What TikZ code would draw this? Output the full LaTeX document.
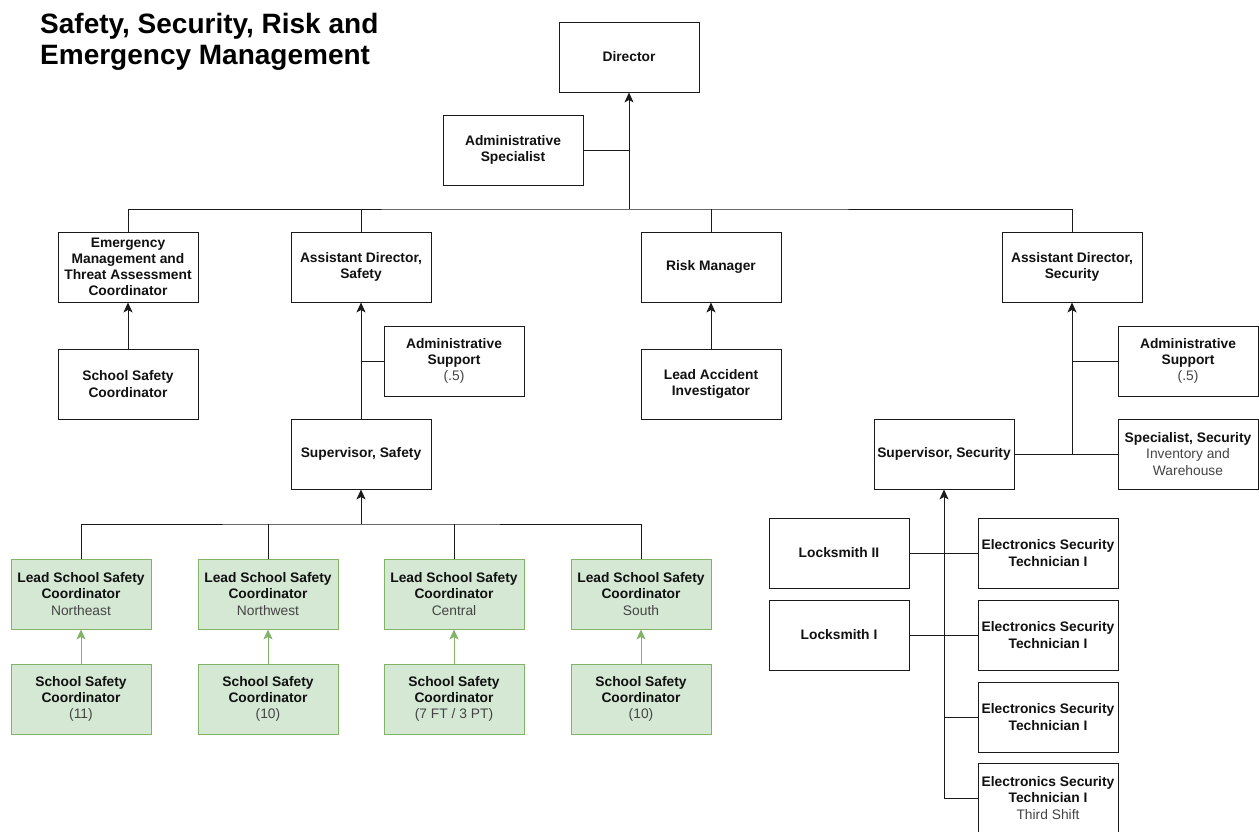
\documentclass[tikz,border=0pt]{standalone}
\usepackage{fontspec}
\setmainfont{Liberation Sans}
\usetikzlibrary{arrows.meta}
\definecolor{edgec}{HTML}{1A1A1A}
\definecolor{txtc}{HTML}{111111}
\definecolor{subc}{HTML}{444444}
\definecolor{gfill}{HTML}{D5E8D4}
\definecolor{gline}{HTML}{82B366}
\newcommand\subt[1]{{\mdseries\color{subc}#1}}
\tikzset{
  box/.style={draw=edgec, line width=0.9pt, fill=white, minimum width=140pt, minimum height=70pt,
    inner sep=0pt, align=center, text=txtc, font=\fontsize{13.8}{16.2}\selectfont\bfseries},
  gbox/.style={box, draw=gline, fill=gfill},
  conn/.style={draw=edgec, line width=0.9pt},
  arr/.style={conn, -{Stealth[length=10pt,width=9pt,inset=2.5pt]}},
  garr/.style={draw=gline, line width=0.9pt, -{Stealth[length=10pt,width=9pt,inset=2.5pt]}},
  ttl/.style={inner sep=0pt, align=left, anchor=north west, font=\fontsize{28}{31}\selectfont\bfseries}
}
\begin{document}
\begin{tikzpicture}[x=1pt,y=-1pt]
\useasboundingbox (0,0) rectangle (1259,832);
\node[ttl] (title) at (40,13) {Safety, Security, Risk and\\Emergency Management};
% top
\node[box] (dir) at (629,57) {Director};
\node[box] (admspec) at (513,150) {Administrative\\Specialist};
% level 2
\node[box] (em) at (128,267) {Emergency\\Management and\\Threat Assessment\\Coordinator};
\node[box] (ads) at (361,267) {Assistant Director,\\Safety};
\node[box] (risk) at (711,267) {Risk Manager};
\node[box] (adsec) at (1072,267) {Assistant Director,\\Security};
% under level 2
\node[box] (ssc) at (128,384) {School Safety\\Coordinator};
\node[box] (asup1) at (454,361) {Administrative\\Support\\\subt{(.5)}};
\node[box] (sups) at (361,454) {Supervisor, Safety};
\node[box] (lai) at (711,384) {Lead Accident\\Investigator};
% safety leads
\node[gbox] (l1) at (81,594) {Lead School Safety\\Coordinator\\\subt{Northeast}};
\node[gbox] (l2) at (268,594) {Lead School Safety\\Coordinator\\\subt{Northwest}};
\node[gbox] (l3) at (454,594) {Lead School Safety\\Coordinator\\\subt{Central}};
\node[gbox] (l4) at (641,594) {Lead School Safety\\Coordinator\\\subt{South}};
\node[gbox] (c1) at (81,699) {School Safety\\Coordinator\\\subt{(11)}};
\node[gbox] (c2) at (268,699) {School Safety\\Coordinator\\\subt{(10)}};
\node[gbox] (c3) at (454,699) {School Safety\\Coordinator\\\subt{(7 FT / 3 PT)}};
\node[gbox] (c4) at (641,699) {School Safety\\Coordinator\\\subt{(10)}};
% security
\node[box] (asup2) at (1188,361) {Administrative\\Support\\\subt{(.5)}};
\node[box] (spec) at (1188,454) {Specialist, Security\\\subt{Inventory and}\\\subt{Warehouse}};
\node[box] (supsec) at (944,454) {Supervisor, Security};
\node[box] (ls2) at (839,553) {Locksmith II};
\node[box] (ls1) at (839,635) {Locksmith I};
\node[box] (est1) at (1048,553) {Electronics Security\\Technician I};
\node[box] (est2) at (1048,635) {Electronics Security\\Technician I};
\node[box] (est3) at (1048,717) {Electronics Security\\Technician I};
\node[box] (est4) at (1048,798) {Electronics Security\\Technician I\\\subt{Third Shift}};
% connectors top
\coordinate (bus0) at (629,209);
\draw[arr] (bus0) -- (dir.south);
\draw[conn] (admspec.east) -- (admspec.east -| dir.south);
\draw[conn] (em.north) |- (bus0) -| (adsec.north);
\draw[conn] (ads.north) -- (ads.north |- bus0);
\draw[conn] (risk.north) -- (risk.north |- bus0);
% safety column
\draw[arr] (ssc.north) -- (em.south);
\draw[conn] (asup1.west) -- (asup1.west -| ads.south);
\draw[arr] (sups.north) -- (ads.south);
\draw[arr] (lai.north) -- (risk.south);
\coordinate (bus1) at (361,524);
\draw[arr] (bus1) -- (sups.south);
\draw[conn] (l1.north) |- (bus1) -| (l4.north);
\draw[conn] (l2.north) -- (l2.north |- bus1);
\draw[conn] (l3.north) -- (l3.north |- bus1);
\draw[garr] (c1.north) -- (l1.south);
\draw[garr] (c2.north) -- (l2.south);
\draw[garr] (c3.north) -- (l3.south);
\draw[garr] (c4.north) -- (l4.south);
% security column
\coordinate (j2) at (1072,454);
\draw[arr] (j2) -- (adsec.south);
\draw[conn] (asup2.west) -- (asup2.west -| adsec.south);
\draw[conn] (supsec.east) -- (spec.west);
\draw[arr] (est4.west) -| (supsec.south);
\draw[conn] (ls2.east) -- (est1.west);
\draw[conn] (ls1.east) -- (est2.west);
\draw[conn] (est3.west) -- (est3.west -| supsec.south);
\end{tikzpicture}
\end{document}
